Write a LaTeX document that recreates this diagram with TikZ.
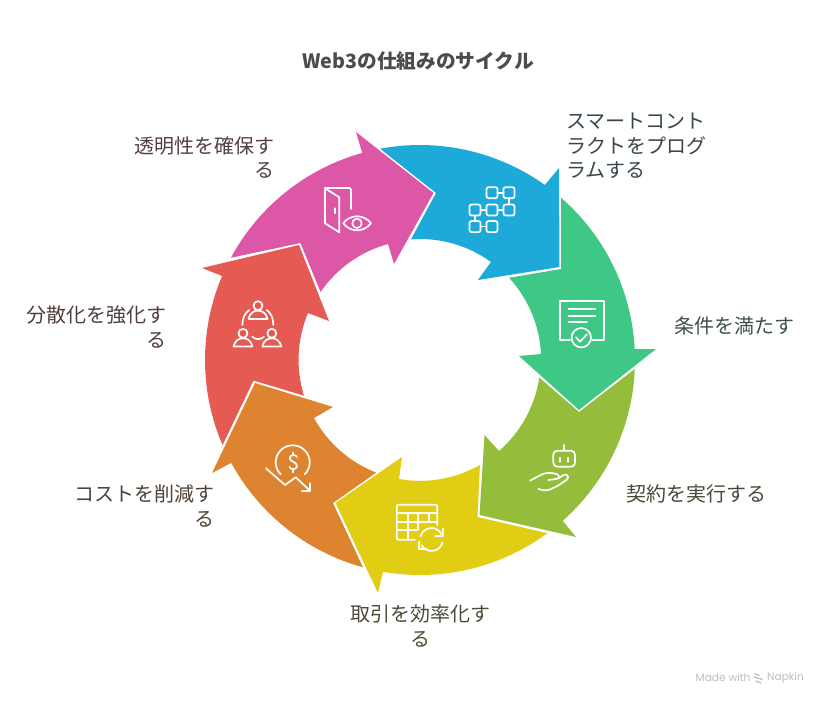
\documentclass[tikz,border=0pt]{standalone}
\usepackage{fontspec}
\newfontfamily\jpf{Noto Sans CJK JP}
\newfontfamily\footf{Poppins}
\definecolor{cblue}{HTML}{1EAAD9}
\definecolor{cgreen}{HTML}{3EC785}
\definecolor{clime}{HTML}{93BD3A}
\definecolor{cyellow}{HTML}{E0CD14}
\definecolor{corange}{HTML}{DE8431}
\definecolor{cred}{HTML}{E55A52}
\definecolor{cpink}{HTML}{DD57A7}
\tikzset{
  lbl/.style={inner sep=0pt,font=\jpf\fontsize{20}{24.5}\selectfont},
  ttl/.style={inner sep=0pt,font=\jpf\bfseries\fontsize{19.7}{22}\selectfont,text=black!70},
  foot/.style={inner sep=0pt,font=\footf\fontsize{10.6}{12}\selectfont,text=black!25},
  ico/.style={draw=white,line width=1.7pt,line cap=round,line join=round},
}
\begin{document}
\begin{tikzpicture}[x=1pt,y=1pt]
\useasboundingbox[fill=white] (0,0) rectangle (828,-706);
% ---------- arrows (origin at ring centre, y up)
\begin{scope}[shift={(420,-360)}]
\fill[cblue] (100.7:215) arc[start angle=100.7,end angle=54.5,radius=215] -- (139,192) -- (139.5,93) -- (58,80) -- (71,98) arc[start angle=54.1,end angle=94.3,radius=121] -- (16,167) -- cycle;
\fill[cgreen] (49:215) arc[start angle=49,end angle=2.9,radius=215] -- (236,11) -- (159,-50) -- (99,4) -- (121,6) arc[start angle=2.8,end angle=42.7,radius=121] -- (141,91) -- cycle;
\fill[clime] (-2.4:215) arc[start angle=-2.4,end angle=-48.4,radius=215] -- (156,-177) -- (59.5,-155) -- (64.5,-75) -- (79,-91) arc[start angle=-49,end angle=-8.5,radius=121] -- (159,-52) -- cycle;
\fill[cyellow] (-53.7:215) arc[start angle=-53.7,end angle=-99.9,radius=215] -- (-42,-233) -- (-84.5,-143) -- (-18,-97) -- (-21,-119) arc[start angle=-100,end angle=-60.3,radius=121] -- (57.5,-157) -- cycle;
\fill[corange] (-105.4:215) arc[start angle=-105.4,end angle=-151.4,radius=215] -- (-208,-113) -- (-165,-23) -- (-87,-47) -- (-106,-58) arc[start angle=-151.3,end angle=-111.3,radius=121] -- (-87,-143) -- cycle;
\fill[cred] (-156.7:215) arc[start angle=-156.7,end angle=-203,radius=215] -- (-218,92) -- (-121,115) -- (-91,39) -- (-112,47) arc[start angle=-202.8,end angle=-162.8,radius=121] -- (-166.5,-20.5) -- cycle;
\fill[cpink] (151.6:215) arc[start angle=151.6,end angle=105.6,radius=215] -- (-64,228) -- (13.5,167) -- (-26,96) -- (-32,116) arc[start angle=105.4,end angle=145.4,radius=121] -- (-119.5,117) -- cycle;
\end{scope}
% ---------- icons: arcs (y up)
\draw[ico] (292.7,-462.3) ++(225:17) arc[start angle=225,end angle=-45,radius=17];
\draw[ico] (431.5,-539.5) ++(165:11.5) arc[start angle=165,end angle=25,radius=11.5];
\draw[ico] (431.5,-539.5) ++(-14:11.5) arc[start angle=-14,end angle=-150,radius=11.5];
% ---------- icons (pixel coordinates, y down)
\begin{scope}[y=-1pt]
% blue: block grid
\foreach \cx/\cy in {492/192.7,509/192.7,475/210,492/210,509/210,475/226.6,492/226.6}
  \draw[ico,rounded corners=2pt] (\cx-5.5,\cy-5.5) rectangle (\cx+5.5,\cy+5.5);
\draw[ico] (497.5,192.7) -- (503.5,192.7) (480.5,210) -- (486.5,210) (497.5,210) -- (503.5,210) (480.5,226.6) -- (486.5,226.6) (509,198.2) -- (509,204.5) (475,215.5) -- (475,221.1);
% pink: door and eye
\draw[ico] (325,188.3) -- (325,223.3) -- (339.3,232.3) -- (339.3,197.3) -- cycle;
\draw[ico,rounded corners=1.5pt] (325,188) -- (351,188) -- (351,209);
\draw[ico] (335,208.3) -- (335,213.3);
\draw[ico] (343.3,223.3) .. controls (350,214) and (364,214) .. (371,223.3) .. controls (364,232.6) and (350,232.6) .. cycle;
\draw[ico] (357,223.3) circle[radius=4.7];
% red: three people
\foreach \hx/\hy in {258/305.7,243/333.3,271.8/333.3}{
  \draw[ico] (\hx,\hy) circle[radius=4.5];
  \draw[ico] (\hx-9.5,\hy+13.2) .. controls (\hx-8,\hy+7) and (\hx-4,\hy+5) .. (\hx,\hy+5) .. controls (\hx+4,\hy+5) and (\hx+8,\hy+7) .. (\hx+9.5,\hy+13.2) -- cycle;
}
\draw[ico] (242.3,325) .. controls (242.3,318) and (245,313) .. (249.3,310);
\draw[ico] (273.3,325) .. controls (273.3,318) and (271,313) .. (266.7,310);
\draw[ico] (252.3,336.7) .. controls (256,340) and (260,340) .. (264,336.7);
% orange: dollar and falling arrow
\draw[ico] (297,457) .. controls (296,454.5) and (290,454) .. (289.7,458) .. controls (289.5,462) and (297,461.5) .. (297,466) .. controls (297,470) and (290.5,470) .. (289.5,467);
\draw[ico] (293.3,452.5) -- (293.3,455) (293.3,470) -- (293.3,472.5);
\draw[ico] (266,468.3) -- (285,485) -- (295.7,477.3) -- (310,490.7);
\draw[ico] (310,483.3) -- (310,490.7) -- (301.7,490.7);
% yellow: table and refresh
\draw[ico,rounded corners=2pt] (415,539.7) -- (396.7,539.7) -- (396.7,504.7) -- (437.3,504.7) -- (437.3,525);
\draw[ico] (396.7,513) -- (437.3,513) (396.7,522) -- (437.3,522) (396.7,530.3) -- (417,530.3);
\draw[ico] (408.3,513) -- (408.3,539.7) (418.3,513) -- (418.3,530) (429.3,513) -- (429.3,522);
\draw[ico] (442.7,528.3) -- (442.7,536) -- (435,536);
\draw[ico] (419.3,541.7) -- (419.3,549.3) -- (426.7,549.3);
% lime: robot on a hand
\draw[ico,rounded corners=4pt] (553.3,450.7) rectangle (575,466.7);
\draw[ico] (564,445) -- (564,450.7) (560,457.7) -- (560,461.7) (567.7,457.7) -- (567.7,461.7);
\draw[ico] (530,480.7) -- (541,474.8) .. controls (546,472.2) and (553,472.5) .. (557.5,474.5) .. controls (560,476) and (559,478.8) .. (556,479) -- (548.3,480);
\draw[ico] (558.3,478.3) -- (564,474.8) .. controls (567,473.5) and (569.5,477) .. (567,479.5) -- (558.3,485.5) -- (550,489.5) .. controls (546,491) and (542,490) .. (538.3,489);
% green: certificate
\draw[ico] (570,340) -- (560.3,340) -- (560.3,300.7) -- (603.7,300.7) -- (603.7,340) -- (592,340);
\draw[ico] (568.7,309.3) -- (595.3,309.3) (568.7,315.7) -- (595.3,315.7) (568.7,321.7) -- (587,321.7);
\draw[ico] (581.3,337.7) circle[radius=9.7];
\draw[ico] (576,337.3) -- (580,341.7) -- (587,334.3);
\end{scope}
% ---------- labels
\node[ttl,anchor=center] (title) at (418,-61.5) {Web3の仕組みのサイクル};
\node[lbl,align=left,anchor=west,text=cblue!15!black!80] (t1) at (566.3,-146) {スマートコント\\ラクトをプログ\\ラムする};
\node[lbl,anchor=west,text=cgreen!20!black!80] (t2) at (674,-325.8) {条件を満たす};
\node[lbl,anchor=west,text=clime!15!black!80] (t3) at (626.5,-493.8) {契約を実行する};
\node[lbl,align=center,anchor=center,text=cyellow!15!black!80] (t4) at (420,-626) {取引を効率化す\\る};
\node[lbl,align=right,anchor=east,text=corange!15!black!80] (t5) at (215,-506) {コストを削減す\\る};
\node[lbl,align=right,anchor=east,text=cred!15!black!80] (t6) at (167,-327) {分散化を強化す\\る};
\node[lbl,align=right,anchor=east,text=cpink!18!black!80] (t7) at (274.5,-157.5) {透明性を確保す\\る};
% ---------- footer
\node[foot,anchor=west] (made) at (695.5,-678) {Made with};
\node[foot,anchor=west] (nap) at (767,-678) {Napkin};
\draw[black!25,line width=1.3pt] (754.5,-673.5) -- (759.5,-675.5) (754,-677) -- (762.5,-679.5) (755.5,-681) -- (761,-683);
\end{tikzpicture}
\end{document}
